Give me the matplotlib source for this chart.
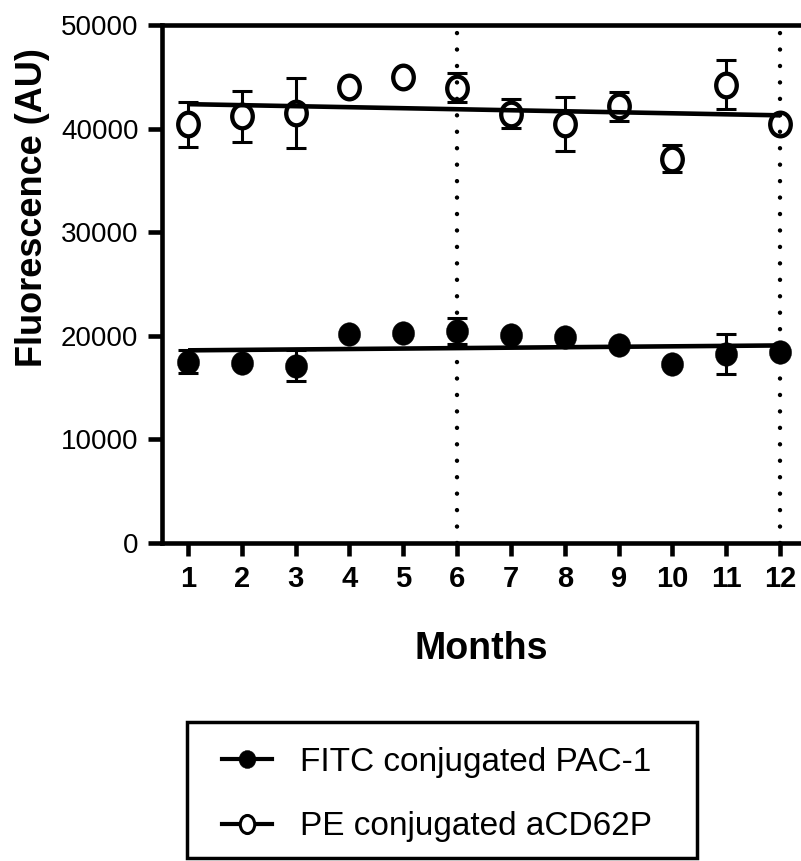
import numpy as np
import matplotlib
matplotlib.use("Agg")
import matplotlib.pyplot as plt
from matplotlib.path import Path
from matplotlib.transforms import Affine2D
from matplotlib.lines import Line2D
from matplotlib.patches import Rectangle

plt.rcParams['font.family'] = ['Liberation Sans', 'DejaVu Sans']

months = [1, 2, 3, 4, 5, 6, 7, 8, 9, 10, 11, 12]
month_labels = ["1", "2", "3", "4", "5", "6", "7", "8", "9", "10", "11", "12"]

fitc_mean = [17500, 17400, 17100, 20200, 20250, 20500, 20100, 19850, 19150, 17250, 18250, 18450]
fitc_err = [1100, 0, 1500, 0, 0, 1250, 0, 0, 0, 0, 1900, 0]

pe_mean = [40400, 41200, 41500, 44000, 44950, 43950, 41450, 40450, 42150, 37100, 44250, 40450]
pe_err = [2150, 2450, 3400, 0, 0, 1400, 1400, 2600, 1400, 1300, 2400, 0]

ref_months = [6, 12]
yticks = [0, 10000, 20000, 30000, 40000, 50000]
series_labels = ["FITC conjugated PAC-1", "PE conjugated aCD62P"]

W, H = 801, 861
fig = plt.figure(figsize=(W / 100, H / 100), dpi=100)
ax = fig.add_axes([162 / W, 1 - 543 / H, (801 - 162) / W, (543 - 25) / H])
ax.set_xlim(0.516, 12.39)
ax.set_ylim(0, 50000)

lw_axis = 3.3
for s in ['left', 'bottom', 'top']:
    ax.spines[s].set_linewidth(lw_axis)
    ax.spines[s].set_capstyle('projecting')
ax.spines['right'].set_visible(False)

ax.set_yticks(yticks)
ax.set_yticklabels([str(v) for v in yticks], fontsize=20)
ax.set_xticks(months)
ax.set_xticklabels(month_labels, fontsize=21, fontweight='bold')
ax.tick_params(axis='y', direction='out', length=10, width=lw_axis, pad=7)
ax.tick_params(axis='x', direction='out', length=9, width=lw_axis, pad=7)

ax.set_xlabel("Months", fontsize=27, fontweight='bold', labelpad=27)
ax.set_ylabel("Fluorescence (AU)", fontsize=26, fontweight='bold')
ax.yaxis.set_label_coords(-0.175, 0.647)

# dotted reference lines
for m in ref_months:
    ax.plot([m, m], [0, 49800], color='black', lw=3.2,
            linestyle=(0, (0.001, 3.7)), dash_capstyle='round', zorder=7)

# elliptical markers (slightly taller than wide)
ell_open = Path.unit_circle().transformed(Affine2D().scale(0.87, 1.0))
ell_fill = Path.unit_circle().transformed(Affine2D().scale(0.94, 1.0))
ell_leg = Path.unit_circle().transformed(Affine2D().scale(0.8, 1.0))

x = np.array(months, dtype=float)
xs = np.array([months[0], months[-1]], dtype=float)

# regression lines
for yvals in (fitc_mean, pe_mean):
    k, b = np.polyfit(x, np.array(yvals, dtype=float), 1)
    ax.plot(xs, k * xs + b, color='black', lw=3.3, solid_capstyle='butt', zorder=6)

for means, errs in ((fitc_mean, fitc_err), (pe_mean, pe_err)):
    ex = [m for m, e in zip(months, errs) if e > 0]
    ey = [v for v, e in zip(means, errs) if e > 0]
    ee = [e for e in errs if e > 0]
    ax.errorbar(ex, ey, yerr=ee, fmt='none', ecolor='black',
                elinewidth=2.2, capsize=7.5, capthick=2.2, zorder=4)

ax.plot(months, fitc_mean, linestyle='none', marker=ell_fill, markersize=17,
        markerfacecolor='black', markeredgecolor='black', markeredgewidth=0.3, zorder=5)
ax.plot(months, pe_mean, linestyle='none', marker=ell_open, markersize=17,
        markerfacecolor='white', markeredgecolor='black', markeredgewidth=3.1, zorder=5)

# legend box
fig.add_artist(Rectangle((187 / W, 1 - 858 / H), (697 - 187) / W, (858 - 722) / H,
                         transform=fig.transFigure, facecolor='white',
                         edgecolor='black', linewidth=2.5, zorder=1))

h1 = Line2D([], [], color='black', lw=3.0, marker=ell_fill, markersize=13,
            markerfacecolor='black', markeredgecolor='black', markeredgewidth=0.3)
h2 = Line2D([], [], color='black', lw=3.0, marker=ell_leg, markersize=13,
            markerfacecolor='white', markeredgecolor='black', markeredgewidth=2.2)

leg = fig.legend([h1, h2], series_labels, loc='upper left',
                 bbox_to_anchor=(222 / W, 1 - 747 / H),
                 fontsize=24, frameon=False, handlelength=1.5, handletextpad=0.84,
                 borderpad=0, labelspacing=1.0, borderaxespad=0)
leg.set_zorder(2)

fig.savefig("out.png", dpi=100)
